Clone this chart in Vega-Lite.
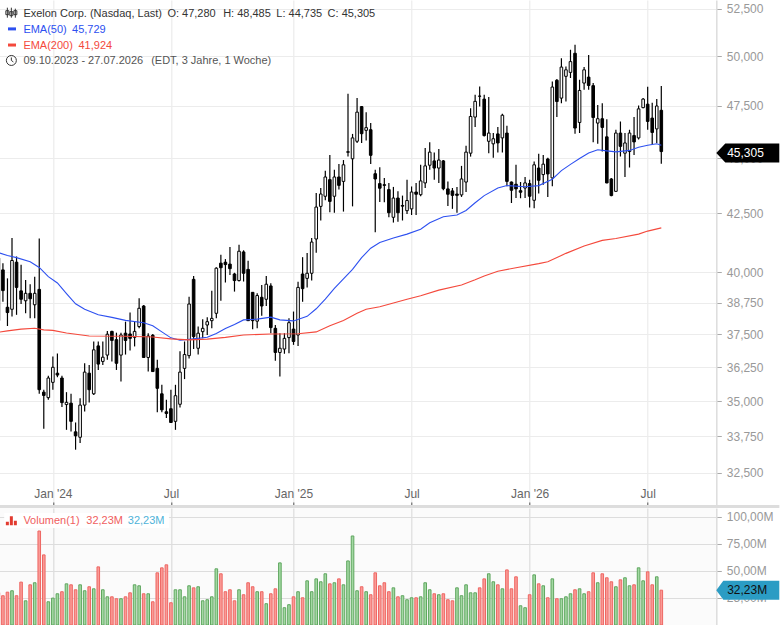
{
  "$schema": "https://vega.github.io/schema/vega-lite/v6.json",
  "padding": {"left": -2.7, "top": 0, "right": 0, "bottom": 0},
  "background": "#ffffff",
  "spacing": 3,
  "bounds": "flush",
  "config": {"font": "Liberation Sans", "view": {"stroke": null}},
  "datasets": {
    "weeks": [
      {"date":"2023-10-09","open":38.04,"high":40.65,"low":38.0,"close":40.58,"volume":30.0,"move":"down"},
      {"date":"2023-10-16","open":40.09,"high":40.37,"low":38.79,"close":39.24,"volume":27.1,"move":"down"},
      {"date":"2023-10-23","open":38.57,"high":39.74,"low":37.83,"close":38.36,"volume":30.4,"move":"down"},
      {"date":"2023-10-30","open":38.49,"high":41.43,"low":38.2,"close":40.48,"volume":31.7,"move":"up"},
      {"date":"2023-11-06","open":40.41,"high":40.65,"low":38.27,"close":39.37,"volume":27.1,"move":"down"},
      {"date":"2023-11-13","open":39.23,"high":40.3,"low":38.7,"close":38.89,"volume":39.7,"move":"down"},
      {"date":"2023-11-20","open":38.83,"high":39.67,"low":38.33,"close":39.13,"volume":22.4,"move":"up"},
      {"date":"2023-11-27","open":39.13,"high":39.5,"low":38.13,"close":38.91,"volume":37.2,"move":"down"},
      {"date":"2023-12-04","open":38.67,"high":39.81,"low":38.13,"close":39.13,"volume":39.1,"move":"up"},
      {"date":"2023-12-11","open":39.29,"high":41.41,"low":35.27,"close":35.42,"volume":87.0,"move":"down"},
      {"date":"2023-12-18","open":35.33,"high":35.42,"low":34.02,"close":35.21,"volume":64.9,"move":"down"},
      {"date":"2023-12-25","open":35.13,"high":35.93,"low":35.05,"close":35.85,"volume":21.5,"move":"up"},
      {"date":"2024-01-01","open":35.69,"high":36.66,"low":35.42,"close":36.25,"volume":24.9,"move":"up"},
      {"date":"2024-01-08","open":36.03,"high":36.77,"low":35.88,"close":35.96,"volume":28.9,"move":"up"},
      {"date":"2024-01-15","open":35.85,"high":35.93,"low":34.79,"close":34.95,"volume":30.8,"move":"down"},
      {"date":"2024-01-22","open":34.88,"high":35.33,"low":33.98,"close":34.96,"volume":38.1,"move":"up"},
      {"date":"2024-01-29","open":34.93,"high":35.27,"low":33.92,"close":34.28,"volume":37.2,"move":"down"},
      {"date":"2024-02-05","open":33.91,"high":34.24,"low":33.29,"close":33.77,"volume":32.6,"move":"down"},
      {"date":"2024-02-12","open":33.72,"high":35.11,"low":33.52,"close":34.86,"volume":37.2,"move":"up"},
      {"date":"2024-02-19","open":34.86,"high":36.4,"low":34.63,"close":36.07,"volume":31.7,"move":"up"},
      {"date":"2024-02-26","open":36.03,"high":36.34,"low":34.95,"close":35.42,"volume":35.4,"move":"down"},
      {"date":"2024-03-04","open":35.27,"high":37.23,"low":35.23,"close":36.91,"volume":33.5,"move":"up"},
      {"date":"2024-03-11","open":37.06,"high":37.23,"low":36.15,"close":36.37,"volume":53.8,"move":"down"},
      {"date":"2024-03-18","open":36.47,"high":37.23,"low":36.34,"close":36.63,"volume":32.6,"move":"up"},
      {"date":"2024-03-25","open":36.71,"high":37.64,"low":36.53,"close":37.51,"volume":26.1,"move":"up"},
      {"date":"2024-04-01","open":37.62,"high":37.65,"low":36.47,"close":37.27,"volume":26.1,"move":"down"},
      {"date":"2024-04-08","open":37.3,"high":37.57,"low":36.15,"close":36.4,"volume":24.3,"move":"down"},
      {"date":"2024-04-15","open":36.71,"high":37.57,"low":35.72,"close":37.48,"volume":24.3,"move":"up"},
      {"date":"2024-04-22","open":37.55,"high":38.0,"low":36.73,"close":37.27,"volume":26.1,"move":"down"},
      {"date":"2024-04-29","open":37.52,"high":38.36,"low":36.88,"close":37.35,"volume":29.8,"move":"down"},
      {"date":"2024-05-06","open":37.39,"high":38.0,"low":37.04,"close":37.62,"volume":37.2,"move":"up"},
      {"date":"2024-05-13","open":37.81,"high":38.93,"low":37.74,"close":38.53,"volume":36.3,"move":"up"},
      {"date":"2024-05-20","open":38.62,"high":38.66,"low":36.62,"close":36.62,"volume":28.9,"move":"down"},
      {"date":"2024-05-27","open":36.62,"high":37.55,"low":36.09,"close":37.44,"volume":28.9,"move":"up"},
      {"date":"2024-06-03","open":37.47,"high":37.52,"low":36.08,"close":36.09,"volume":21.5,"move":"down"},
      {"date":"2024-06-10","open":36.21,"high":36.53,"low":34.6,"close":35.47,"volume":48.3,"move":"down"},
      {"date":"2024-06-17","open":35.27,"high":35.6,"low":34.6,"close":34.69,"volume":52.9,"move":"down"},
      {"date":"2024-06-24","open":34.62,"high":35.05,"low":34.4,"close":34.56,"volume":55.7,"move":"down"},
      {"date":"2024-07-01","open":34.73,"high":35.42,"low":34.22,"close":34.24,"volume":20.6,"move":"down"},
      {"date":"2024-07-08","open":34.28,"high":35.6,"low":33.98,"close":35.2,"volume":32.6,"move":"up"},
      {"date":"2024-07-15","open":34.89,"high":36.86,"low":34.77,"close":36.07,"volume":32.6,"move":"up"},
      {"date":"2024-07-22","open":36.21,"high":37.23,"low":35.81,"close":36.73,"volume":26.1,"move":"up"},
      {"date":"2024-07-29","open":36.69,"high":38.99,"low":36.58,"close":38.7,"volume":36.3,"move":"up"},
      {"date":"2024-08-05","open":39.7,"high":39.84,"low":36.94,"close":37.42,"volume":34.4,"move":"down"},
      {"date":"2024-08-12","open":36.97,"high":37.81,"low":36.73,"close":37.55,"volume":35.4,"move":"up"},
      {"date":"2024-08-19","open":37.61,"high":38.1,"low":37.35,"close":37.74,"volume":22.4,"move":"up"},
      {"date":"2024-08-26","open":37.87,"high":38.17,"low":37.48,"close":38.0,"volume":23.4,"move":"up"},
      {"date":"2024-09-02","open":38.04,"high":39.23,"low":37.74,"close":38.13,"volume":26.1,"move":"up"},
      {"date":"2024-09-09","open":38.33,"high":40.2,"low":38.13,"close":40.16,"volume":52.0,"move":"up"},
      {"date":"2024-09-16","open":40.37,"high":40.72,"low":38.83,"close":40.18,"volume":47.4,"move":"down"},
      {"date":"2024-09-23","open":40.41,"high":40.54,"low":39.57,"close":40.31,"volume":30.8,"move":"down"},
      {"date":"2024-09-30","open":40.33,"high":41.05,"low":39.88,"close":40.14,"volume":32.6,"move":"down"},
      {"date":"2024-10-07","open":39.92,"high":39.97,"low":39.2,"close":39.65,"volume":22.4,"move":"down"},
      {"date":"2024-10-14","open":39.65,"high":41.15,"low":39.61,"close":40.87,"volume":32.6,"move":"up"},
      {"date":"2024-10-21","open":40.84,"high":40.91,"low":39.61,"close":39.95,"volume":28.0,"move":"down"},
      {"date":"2024-10-28","open":40.11,"high":40.47,"low":38.03,"close":38.04,"volume":39.1,"move":"down"},
      {"date":"2024-11-04","open":39.17,"high":39.18,"low":37.7,"close":38.04,"volume":35.4,"move":"down"},
      {"date":"2024-11-11","open":38.02,"high":39.13,"low":37.74,"close":39.04,"volume":30.8,"move":"up"},
      {"date":"2024-11-18","open":38.97,"high":39.47,"low":38.23,"close":38.62,"volume":30.8,"move":"down"},
      {"date":"2024-11-25","open":38.89,"high":39.84,"low":38.62,"close":39.5,"volume":19.7,"move":"up"},
      {"date":"2024-12-02","open":39.43,"high":39.54,"low":37.55,"close":37.77,"volume":28.9,"move":"down"},
      {"date":"2024-12-09","open":37.74,"high":37.87,"low":36.5,"close":36.81,"volume":33.5,"move":"down"},
      {"date":"2024-12-16","open":36.81,"high":37.55,"low":35.91,"close":36.97,"volume":57.5,"move":"up"},
      {"date":"2024-12-23","open":36.94,"high":37.55,"low":36.76,"close":37.35,"volume":16.0,"move":"up"},
      {"date":"2024-12-30","open":37.38,"high":38.13,"low":36.78,"close":37.96,"volume":18.8,"move":"up"},
      {"date":"2025-01-06","open":37.71,"high":38.4,"low":37.1,"close":37.23,"volume":26.1,"move":"down"},
      {"date":"2025-01-13","open":37.48,"high":39.6,"low":37.06,"close":39.37,"volume":30.8,"move":"up"},
      {"date":"2025-01-20","open":39.92,"high":40.62,"low":38.79,"close":39.32,"volume":25.2,"move":"down"},
      {"date":"2025-01-27","open":39.74,"high":40.8,"low":39.37,"close":39.95,"volume":40.9,"move":"up"},
      {"date":"2025-02-03","open":39.95,"high":41.43,"low":39.65,"close":41.26,"volume":30.8,"move":"up"},
      {"date":"2025-02-10","open":41.39,"high":43.41,"low":40.81,"close":42.78,"volume":42.7,"move":"up"},
      {"date":"2025-02-17","open":42.81,"high":43.63,"low":42.19,"close":43.36,"volume":40.0,"move":"up"},
      {"date":"2025-02-24","open":43.26,"high":44.42,"low":43.08,"close":44.13,"volume":47.4,"move":"up"},
      {"date":"2025-03-03","open":44.01,"high":45.15,"low":42.55,"close":43.03,"volume":38.1,"move":"down"},
      {"date":"2025-03-10","open":43.26,"high":44.46,"low":42.53,"close":44.13,"volume":39.1,"move":"up"},
      {"date":"2025-03-17","open":44.13,"high":44.73,"low":43.56,"close":43.75,"volume":42.7,"move":"down"},
      {"date":"2025-03-24","open":43.93,"high":44.91,"low":42.58,"close":44.69,"volume":37.2,"move":"up"},
      {"date":"2025-03-31","open":45.27,"high":48.09,"low":45.07,"close":45.3,"volume":59.3,"move":"up"},
      {"date":"2025-04-07","open":44.97,"high":46.14,"low":42.81,"close":45.95,"volume":82.4,"move":"up"},
      {"date":"2025-04-14","open":45.79,"high":47.88,"low":45.71,"close":47.19,"volume":31.7,"move":"up"},
      {"date":"2025-04-21","open":47.46,"high":47.49,"low":45.71,"close":46.15,"volume":35.4,"move":"down"},
      {"date":"2025-04-28","open":46.31,"high":47.19,"low":45.83,"close":46.44,"volume":30.8,"move":"up"},
      {"date":"2025-05-05","open":46.34,"high":46.66,"low":44.73,"close":45.13,"volume":28.0,"move":"down"},
      {"date":"2025-05-12","open":44.28,"high":44.46,"low":41.68,"close":44.04,"volume":48.3,"move":"down"},
      {"date":"2025-05-19","open":43.83,"high":44.58,"low":43.0,"close":43.62,"volume":36.3,"move":"down"},
      {"date":"2025-05-26","open":43.78,"high":44.08,"low":42.99,"close":43.75,"volume":39.1,"move":"down"},
      {"date":"2025-06-02","open":43.56,"high":43.86,"low":42.33,"close":42.53,"volume":30.8,"move":"down"},
      {"date":"2025-06-09","open":42.33,"high":43.68,"low":42.1,"close":43.18,"volume":34.4,"move":"up"},
      {"date":"2025-06-16","open":43.18,"high":43.48,"low":42.14,"close":42.53,"volume":26.1,"move":"down"},
      {"date":"2025-06-23","open":42.85,"high":43.29,"low":42.19,"close":42.82,"volume":27.1,"move":"up"},
      {"date":"2025-06-30","open":42.62,"high":44.01,"low":42.47,"close":43.07,"volume":23.4,"move":"up"},
      {"date":"2025-07-07","open":42.7,"high":43.7,"low":42.43,"close":43.45,"volume":25.2,"move":"up"},
      {"date":"2025-07-14","open":43.45,"high":43.86,"low":42.43,"close":43.35,"volume":25.2,"move":"down"},
      {"date":"2025-07-21","open":43.33,"high":44.69,"low":43.26,"close":43.95,"volume":26.1,"move":"up"},
      {"date":"2025-07-28","open":43.86,"high":45.47,"low":43.63,"close":44.64,"volume":39.1,"move":"up"},
      {"date":"2025-08-04","open":44.67,"high":45.74,"low":44.46,"close":45.28,"volume":32.6,"move":"up"},
      {"date":"2025-08-11","open":44.87,"high":45.26,"low":44.01,"close":44.54,"volume":28.9,"move":"down"},
      {"date":"2025-08-18","open":44.54,"high":45.42,"low":43.86,"close":44.91,"volume":28.0,"move":"up"},
      {"date":"2025-08-25","open":44.87,"high":44.91,"low":43.53,"close":43.6,"volume":28.9,"move":"down"},
      {"date":"2025-09-01","open":43.59,"high":43.93,"low":42.83,"close":43.35,"volume":23.4,"move":"down"},
      {"date":"2025-09-08","open":43.5,"high":43.63,"low":42.7,"close":43.3,"volume":22.4,"move":"down"},
      {"date":"2025-09-15","open":43.36,"high":43.68,"low":42.53,"close":43.3,"volume":34.4,"move":"up"},
      {"date":"2025-09-22","open":43.32,"high":44.64,"low":43.23,"close":44.04,"volume":27.1,"move":"up"},
      {"date":"2025-09-29","open":43.9,"high":45.58,"low":43.45,"close":45.28,"volume":37.2,"move":"up"},
      {"date":"2025-10-06","open":45.23,"high":47.38,"low":45.07,"close":46.98,"volume":29.8,"move":"up"},
      {"date":"2025-10-13","open":46.95,"high":48.04,"low":46.47,"close":47.72,"volume":29.8,"move":"up"},
      {"date":"2025-10-20","open":47.97,"high":48.46,"low":47.46,"close":47.98,"volume":34.4,"move":"down"},
      {"date":"2025-10-27","open":47.83,"high":48.04,"low":46.02,"close":46.06,"volume":42.7,"move":"down"},
      {"date":"2025-11-03","open":45.79,"high":47.93,"low":45.23,"close":46.18,"volume":47.4,"move":"up"},
      {"date":"2025-11-10","open":45.67,"high":46.18,"low":45.02,"close":45.91,"volume":40.0,"move":"up"},
      {"date":"2025-11-17","open":46.14,"high":46.47,"low":45.26,"close":45.71,"volume":37.2,"move":"down"},
      {"date":"2025-11-24","open":45.95,"high":47.11,"low":45.26,"close":47.04,"volume":33.5,"move":"up"},
      {"date":"2025-12-01","open":46.18,"high":46.53,"low":43.71,"close":43.93,"volume":51.0,"move":"down"},
      {"date":"2025-12-08","open":43.9,"high":43.93,"low":42.96,"close":43.53,"volume":33.5,"move":"down"},
      {"date":"2025-12-15","open":43.8,"high":44.69,"low":43.18,"close":43.59,"volume":44.6,"move":"down"},
      {"date":"2025-12-22","open":43.51,"high":43.9,"low":43.17,"close":43.44,"volume":17.8,"move":"up"},
      {"date":"2025-12-29","open":43.63,"high":44.13,"low":43.18,"close":43.86,"volume":16.0,"move":"up"},
      {"date":"2026-01-05","open":43.83,"high":44.01,"low":42.76,"close":43.26,"volume":28.0,"move":"down"},
      {"date":"2026-01-12","open":43.08,"high":44.84,"low":42.73,"close":44.69,"volume":46.4,"move":"up"},
      {"date":"2026-01-19","open":44.54,"high":45.2,"low":43.38,"close":43.98,"volume":38.1,"move":"down"},
      {"date":"2026-01-26","open":44.24,"high":45.15,"low":43.78,"close":44.72,"volume":36.3,"move":"up"},
      {"date":"2026-02-02","open":44.96,"high":45.02,"low":43.23,"close":44.27,"volume":25.2,"move":"down"},
      {"date":"2026-02-09","open":44.09,"high":48.71,"low":43.71,"close":48.43,"volume":42.7,"move":"up"},
      {"date":"2026-02-16","open":48.77,"high":48.83,"low":46.95,"close":47.71,"volume":24.3,"move":"down"},
      {"date":"2026-02-23","open":47.88,"high":49.89,"low":47.62,"close":49.44,"volume":24.3,"move":"up"},
      {"date":"2026-03-02","open":48.97,"high":49.47,"low":47.71,"close":49.3,"volume":26.1,"move":"up"},
      {"date":"2026-03-09","open":49.17,"high":50.33,"low":48.88,"close":49.72,"volume":28.9,"move":"up"},
      {"date":"2026-03-16","open":50.15,"high":50.59,"low":46.15,"close":46.42,"volume":32.6,"move":"down"},
      {"date":"2026-03-23","open":46.69,"high":48.8,"low":46.18,"close":48.26,"volume":33.5,"move":"up"},
      {"date":"2026-03-30","open":48.63,"high":49.44,"low":48.3,"close":49.3,"volume":28.9,"move":"up"},
      {"date":"2026-04-06","open":48.93,"high":50.06,"low":48.3,"close":48.51,"volume":30.8,"move":"down"},
      {"date":"2026-04-13","open":48.5,"high":48.63,"low":45.74,"close":46.93,"volume":48.3,"move":"down"},
      {"date":"2026-04-20","open":46.66,"high":47.54,"low":45.67,"close":46.87,"volume":39.1,"move":"up"},
      {"date":"2026-04-27","open":46.87,"high":47.62,"low":45.31,"close":46.45,"volume":47.4,"move":"down"},
      {"date":"2026-05-04","open":46.0,"high":46.85,"low":43.85,"close":43.86,"volume":43.7,"move":"down"},
      {"date":"2026-05-11","open":44.04,"high":44.09,"low":43.26,"close":43.29,"volume":40.0,"move":"down"},
      {"date":"2026-05-18","open":43.48,"high":46.34,"low":43.47,"close":46.18,"volume":35.4,"move":"up"},
      {"date":"2026-05-25","open":46.18,"high":46.74,"low":45.07,"close":45.55,"volume":41.8,"move":"down"},
      {"date":"2026-06-01","open":45.23,"high":46.18,"low":44.13,"close":45.71,"volume":43.7,"move":"up"},
      {"date":"2026-06-08","open":45.31,"high":46.34,"low":44.57,"close":46.18,"volume":36.3,"move":"up"},
      {"date":"2026-06-15","open":46.06,"high":46.95,"low":45.14,"close":45.76,"volume":37.2,"move":"down"},
      {"date":"2026-06-22","open":45.95,"high":47.51,"low":45.87,"close":47.35,"volume":52.9,"move":"up"},
      {"date":"2026-06-29","open":47.41,"high":47.89,"low":47.38,"close":47.83,"volume":40.9,"move":"up"},
      {"date":"2026-07-06","open":47.58,"high":48.45,"low":46.34,"close":46.74,"volume":49.2,"move":"down"},
      {"date":"2026-07-13","open":46.9,"high":47.65,"low":45.63,"close":46.21,"volume":37.2,"move":"down"},
      {"date":"2026-07-20","open":46.38,"high":47.83,"low":45.71,"close":47.49,"volume":44.6,"move":"up"},
      {"date":"2026-07-27","open":47.28,"high":48.485,"low":44.735,"close":45.305,"volume":32.23,"move":"down"}
    ],
    "ema": [
      {"date":"2023-10-09","series":"EMA(50)","price":40.81},{"date":"2023-10-23","series":"EMA(50)","price":40.69},
      {"date":"2023-11-06","series":"EMA(50)","price":40.6},{"date":"2023-11-27","series":"EMA(50)","price":40.43},
      {"date":"2023-12-11","series":"EMA(50)","price":40.19},{"date":"2023-12-25","series":"EMA(50)","price":39.81},
      {"date":"2024-01-08","series":"EMA(50)","price":39.55},{"date":"2024-01-22","series":"EMA(50)","price":39.12},
      {"date":"2024-02-05","series":"EMA(50)","price":38.71},{"date":"2024-02-19","series":"EMA(50)","price":38.49},
      {"date":"2024-03-11","series":"EMA(50)","price":38.27},{"date":"2024-04-01","series":"EMA(50)","price":38.17},
      {"date":"2024-04-22","series":"EMA(50)","price":38.05},{"date":"2024-05-20","series":"EMA(50)","price":37.96},
      {"date":"2024-06-03","series":"EMA(50)","price":37.84},{"date":"2024-06-17","series":"EMA(50)","price":37.6},
      {"date":"2024-07-01","series":"EMA(50)","price":37.37},{"date":"2024-07-15","series":"EMA(50)","price":37.28},
      {"date":"2024-08-05","series":"EMA(50)","price":37.33},{"date":"2024-08-26","series":"EMA(50)","price":37.39},
      {"date":"2024-09-09","series":"EMA(50)","price":37.54},{"date":"2024-09-23","series":"EMA(50)","price":37.73},
      {"date":"2024-10-07","series":"EMA(50)","price":37.89},{"date":"2024-10-21","series":"EMA(50)","price":38.07},
      {"date":"2024-11-11","series":"EMA(50)","price":38.1},{"date":"2024-12-02","series":"EMA(50)","price":38.18},
      {"date":"2024-12-16","series":"EMA(50)","price":38.07},{"date":"2025-01-06","series":"EMA(50)","price":38.03},
      {"date":"2025-01-27","series":"EMA(50)","price":38.21},{"date":"2025-02-10","series":"EMA(50)","price":38.51},
      {"date":"2025-02-24","series":"EMA(50)","price":38.9},{"date":"2025-03-10","series":"EMA(50)","price":39.33},
      {"date":"2025-03-24","series":"EMA(50)","price":39.72},{"date":"2025-04-07","series":"EMA(50)","price":40.11},
      {"date":"2025-04-21","series":"EMA(50)","price":40.6},{"date":"2025-05-05","series":"EMA(50)","price":41.0},
      {"date":"2025-05-19","series":"EMA(50)","price":41.24},{"date":"2025-06-09","series":"EMA(50)","price":41.43},
      {"date":"2025-06-30","series":"EMA(50)","price":41.6},{"date":"2025-07-21","series":"EMA(50)","price":41.81},
      {"date":"2025-08-04","series":"EMA(50)","price":42.09},{"date":"2025-08-25","series":"EMA(50)","price":42.35},
      {"date":"2025-09-15","series":"EMA(50)","price":42.43},{"date":"2025-09-29","series":"EMA(50)","price":42.63},
      {"date":"2025-10-13","series":"EMA(50)","price":42.97},{"date":"2025-10-27","series":"EMA(50)","price":43.29},
      {"date":"2025-11-17","series":"EMA(50)","price":43.63},{"date":"2025-12-01","series":"EMA(50)","price":43.74},
      {"date":"2025-12-29","series":"EMA(50)","price":43.69},{"date":"2026-01-19","series":"EMA(50)","price":43.74},
      {"date":"2026-02-09","series":"EMA(50)","price":44.03},{"date":"2026-02-23","series":"EMA(50)","price":44.42},
      {"date":"2026-03-09","series":"EMA(50)","price":44.71},{"date":"2026-03-23","series":"EMA(50)","price":44.98},
      {"date":"2026-04-06","series":"EMA(50)","price":45.24},{"date":"2026-04-20","series":"EMA(50)","price":45.39},
      {"date":"2026-05-04","series":"EMA(50)","price":45.34},{"date":"2026-05-18","series":"EMA(50)","price":45.29},
      {"date":"2026-06-08","series":"EMA(50)","price":45.36},{"date":"2026-06-22","series":"EMA(50)","price":45.51},
      {"date":"2026-07-06","series":"EMA(50)","price":45.6},{"date":"2026-07-20","series":"EMA(50)","price":45.67},
      {"date":"2026-07-27","series":"EMA(50)","price":45.6},
      {"date":"2023-10-09","series":"EMA(200)","price":37.59},{"date":"2023-10-23","series":"EMA(200)","price":37.64},
      {"date":"2023-11-13","series":"EMA(200)","price":37.71},{"date":"2023-12-04","series":"EMA(200)","price":37.74},
      {"date":"2023-12-18","series":"EMA(200)","price":37.68},{"date":"2024-01-01","series":"EMA(200)","price":37.66},
      {"date":"2024-01-22","series":"EMA(200)","price":37.56},{"date":"2024-02-26","series":"EMA(200)","price":37.44},
      {"date":"2024-04-22","series":"EMA(200)","price":37.43},{"date":"2024-06-03","series":"EMA(200)","price":37.4},
      {"date":"2024-07-01","series":"EMA(200)","price":37.33},{"date":"2024-07-29","series":"EMA(200)","price":37.29},
      {"date":"2024-08-26","series":"EMA(200)","price":37.32},{"date":"2024-09-23","series":"EMA(200)","price":37.39},
      {"date":"2024-10-21","series":"EMA(200)","price":37.48},{"date":"2024-12-02","series":"EMA(200)","price":37.52},
      {"date":"2025-01-13","series":"EMA(200)","price":37.53},{"date":"2025-02-10","series":"EMA(200)","price":37.6},
      {"date":"2025-03-03","series":"EMA(200)","price":37.84},{"date":"2025-03-24","series":"EMA(200)","price":38.05},
      {"date":"2025-04-14","series":"EMA(200)","price":38.33},{"date":"2025-04-28","series":"EMA(200)","price":38.49},
      {"date":"2025-05-19","series":"EMA(200)","price":38.59},{"date":"2025-06-09","series":"EMA(200)","price":38.74},
      {"date":"2025-06-30","series":"EMA(200)","price":38.89},{"date":"2025-07-21","series":"EMA(200)","price":39.03},
      {"date":"2025-08-18","series":"EMA(200)","price":39.26},{"date":"2025-09-22","series":"EMA(200)","price":39.47},
      {"date":"2025-10-13","series":"EMA(200)","price":39.68},{"date":"2025-10-27","series":"EMA(200)","price":39.84},
      {"date":"2025-11-17","series":"EMA(200)","price":40.03},{"date":"2025-12-15","series":"EMA(200)","price":40.18},
      {"date":"2026-01-19","series":"EMA(200)","price":40.35},{"date":"2026-02-02","series":"EMA(200)","price":40.43},
      {"date":"2026-03-02","series":"EMA(200)","price":40.78},{"date":"2026-03-30","series":"EMA(200)","price":41.09},
      {"date":"2026-04-27","series":"EMA(200)","price":41.33},{"date":"2026-05-18","series":"EMA(200)","price":41.41},
      {"date":"2026-06-22","series":"EMA(200)","price":41.6},{"date":"2026-07-06","series":"EMA(200)","price":41.73},
      {"date":"2026-07-27","series":"EMA(200)","price":41.87}
    ],
    "labels": [
      {"date":"2023-11-15","price":52.3,"text":"Exelon Corp. (Nasdaq, Last)","series":"Kurs"},
      {"date":"2024-06-24","price":52.3,"text":"O: 47,280","series":"Kurs"},
      {"date":"2024-09-18","price":52.3,"text":"H: 48,485","series":"Kurs"},
      {"date":"2024-12-09","price":52.3,"text":"L: 44,735","series":"Kurs"},
      {"date":"2025-02-26","price":52.3,"text":"C: 45,305","series":"Kurs"},
      {"date":"2023-11-15","price":51.43,"text":"EMA(50)","series":"EMA(50)"},
      {"date":"2024-01-29","price":51.43,"text":"45,729","series":"EMA(50)"},
      {"date":"2023-11-15","price":50.58,"text":"EMA(200)","series":"EMA(200)"},
      {"date":"2024-02-08","price":50.58,"text":"41,924","series":"EMA(200)"},
      {"date":"2023-11-15","price":49.78,"text":"09.10.2023 - 27.07.2026","series":"Zeit"},
      {"date":"2024-05-30","price":49.78,"text":"(EDT, 3 Jahre, 1 Woche)","series":"Zeit"}
    ],
    "icons": [
      {"date":"2023-10-29","price":52.3,"icon":"kerzen"},
      {"date":"2023-10-29","price":49.78,"icon":"uhr"}
    ],
    "dashes": [
      {"date":"2023-10-30","price":51.43,"series":"EMA(50)"},
      {"date":"2023-10-30","price":50.58,"series":"EMA(200)"}
    ],
    "band": [
      {"date":"2023-10-10T10:00:00Z","end":"2027-01-25","price":31.39}
    ],
    "lastPrice": [
      {"date":"2026-10-19T19:00:00Z","price":45.24}
    ],
    "lastPriceText": [
      {"date":"2026-11-04","price":45.24,"text":"45,305"}
    ],
    "lastVolume": [
      {"date":"2026-10-19T19:00:00Z","volume":32.23}
    ],
    "lastVolumeText": [
      {"date":"2026-11-04","volume":32.23,"text":"32,23M"}
    ],
    "volumeBox": [
      {"date":"2023-10-18","end":"2024-06-28","top":103.7,"bottom":89.8}
    ],
    "volumeIcon": [
      {"date":"2023-10-29","volume":96.6}
    ],
    "volumeLabels": [
      {"date":"2023-11-15","volume":96.6,"text":"Volumen(1)"},
      {"date":"2024-02-20","volume":96.6,"text":"32,23M"}
    ],
    "volumeSignal": [
      {"date":"2024-04-24","volume":96.6,"text":"32,23M"}
    ]
  },
  "vconcat": [
    {
      "width": 717,
      "height": 505,
      "layer": [
        {
          "data": {"name": "band", "format": {"parse": {"date": "date", "end": "date"}}},
          "mark": {"type": "rule", "color": "#dddddd", "strokeWidth": 3, "clip": false},
          "encoding": {
            "x": {
              "field": "date",
              "type": "temporal",
              "title": null,
              "scale": {"type": "utc", "domain": [1696932000000, 1792436400000], "nice": false, "padding": 0},
              "axis": {
                "values": [1704067200000, 1719792000000, 1736121600000, 1751846400000, 1767571200000, 1783296000000],
                "tickCount": 50,
                "labelExpr": "utcmonth(datum.value) == 0 ? utcFormat(datum.value, \"%b '%y\") : 'Jul'",
                "grid": true,
                "gridColor": "#ececec",
                "gridWidth": 1.2,
                "domain": false,
                "tickColor": "#555555",
                "tickSize": -3,
                "labelColor": "#666666",
                "labelFontSize": 12,
                "labelPadding": -13,
                "labelOverlap": false,
                "labelFlush": false,
                "labelBound": false
              }
            },
            "x2": {"field": "end"},
            "y": {
              "field": "price",
              "type": "quantitative",
              "title": null,
              "scale": {"type": "log", "domain": [31.44, 52.99], "nice": false},
              "axis": {
                "orient": "right",
                "values": [52.5, 50, 47.5, 45, 42.5, 40, 38.75, 37.5, 36.25, 35, 33.75, 32.5],
                "tickCount": 50,
                "labelExpr": "replace(format(datum.value, '.3f'), '.', ',')",
                "grid": true,
                "gridColor": "#ececec",
                "gridWidth": 1.2,
                "domainColor": "#dddddd",
                "domainWidth": 1.5,
                "tickColor": "#aaaaaa",
                "tickSize": 5,
                "labelColor": "#999999",
                "labelFontSize": 12,
                "labelPadding": 5,
                "labelOverlap": false,
                "labelFlush": false,
                "labelBound": false
              }
            }
          }
        },
        {
          "data": {"name": "weeks"},
          "mark": {"type": "rule", "color": "#000000", "strokeWidth": 1.2, "clip": true},
          "encoding": {
            "x": {"field": "date", "type": "temporal"},
            "y": {"field": "low", "type": "quantitative"},
            "y2": {"field": "high"}
          }
        },
        {
          "data": {"name": "weeks"},
          "mark": {"type": "bar", "size": 2.6, "stroke": "#000000", "strokeWidth": 1, "clip": true},
          "encoding": {
            "x": {"field": "date", "type": "temporal"},
            "y": {"field": "open", "type": "quantitative"},
            "y2": {"field": "close"},
            "fill": {"condition": {"test": "datum.close > datum.open", "value": "#ffffff"}, "value": "#000000"}
          }
        },
        {
          "data": {"name": "ema"},
          "mark": {"type": "line", "strokeWidth": 1.1, "clip": true},
          "encoding": {
            "x": {"field": "date", "type": "temporal"},
            "y": {"field": "price", "type": "quantitative"},
            "color": {
              "field": "series",
              "type": "nominal",
              "legend": null,
              "scale": {"domain": ["EMA(50)", "EMA(200)", "Kurs", "Zeit"], "range": ["#2d50f0", "#f4493c", "#333333", "#555555"]}
            }
          }
        },
        {
          "data": {"name": "labels"},
          "mark": {"type": "text", "align": "left", "baseline": "middle", "fontSize": 11, "dx": 1, "dy": 1},
          "encoding": {
            "x": {"field": "date", "type": "temporal"},
            "y": {"field": "price", "type": "quantitative"},
            "text": {"field": "text"},
            "color": {"field": "series", "type": "nominal", "legend": null}
          }
        },
        {
          "data": {"name": "dashes"},
          "mark": {"type": "point", "shape": "M-4,-1.5H4V1.5H-4Z", "size": 4, "filled": true, "opacity": 1},
          "encoding": {
            "x": {"field": "date", "type": "temporal"},
            "y": {"field": "price", "type": "quantitative"},
            "color": {"field": "series", "type": "nominal", "legend": null}
          }
        },
        {
          "data": {"name": "icons"},
          "mark": {"type": "point", "size": 4, "filled": false, "color": "#333333", "strokeWidth": 1, "opacity": 1},
          "encoding": {
            "x": {"field": "date", "type": "temporal"},
            "y": {"field": "price", "type": "quantitative"},
            "shape": {
              "field": "icon",
              "type": "nominal",
              "legend": null,
              "scale": {
                "domain": ["kerzen", "uhr"],
                "range": [
                  "M-4,-5V5M0,-5V5M4,-4V5M-5.5,-2H-2.5V2H-5.5ZM-1.5,-1H1.5V3H-1.5ZM2.5,-2H5.5V2H2.5Z",
                  "M-5,0A5,5 0 1,1 5,0A5,5 0 1,1 -5,0ZM0,-3V0L2,1.5"
                ]
              }
            }
          }
        },
        {
          "data": {"name": "lastPrice"},
          "mark": {"type": "point", "shape": "M0,0L9,-9.5H63V9.5H9Z", "size": 4, "filled": true, "color": "#000000", "opacity": 1},
          "encoding": {
            "x": {"field": "date", "type": "temporal"},
            "y": {"field": "price", "type": "quantitative"}
          }
        },
        {
          "data": {"name": "lastPriceText"},
          "mark": {"type": "text", "align": "left", "baseline": "middle", "fontSize": 12, "color": "#ffffff", "dx": 1},
          "encoding": {
            "x": {"field": "date", "type": "temporal"},
            "y": {"field": "price", "type": "quantitative"},
            "text": {"field": "text"}
          }
        }
      ]
    },
    {
      "width": 717,
      "height": 117,
      "view": {"fill": "#fbfbfb", "stroke": null},
      "layer": [
        {
          "data": {"name": "volumeBox", "format": {"parse": {"date": "date", "end": "date"}}},
          "mark": {"type": "rect", "color": "#ffffff"},
          "encoding": {
            "x": {
              "field": "date",
              "type": "temporal",
              "title": null,
              "scale": {"type": "utc", "domain": [1696932000000, 1792436400000], "nice": false, "padding": 0},
              "axis": {
                "values": [1704067200000, 1719792000000, 1736121600000, 1751846400000, 1767571200000, 1783296000000],
                "tickCount": 50,
                "grid": true,
                "gridColor": "#dddddd",
                "gridWidth": 1.2,
                "domain": false,
                "ticks": false,
                "labels": false
              }
            },
            "x2": {"field": "end"},
            "y": {
              "field": "top",
              "type": "quantitative",
              "title": null,
              "scale": {"domain": [0, 108.3], "nice": false},
              "axis": {
                "orient": "right",
                "values": [25, 50, 75, 100],
                "tickCount": 50,
                "labelExpr": "replace(format(datum.value, '.2f'), '.', ',') + 'M'",
                "grid": true,
                "gridColor": "#dddddd",
                "gridWidth": 1.2,
                "domainColor": "#dddddd",
                "domainWidth": 1.5,
                "tickColor": "#aaaaaa",
                "tickSize": 5,
                "labelColor": "#999999",
                "labelFontSize": 12,
                "labelPadding": 5,
                "labelOverlap": false,
                "labelFlush": false,
                "labelBound": false
              }
            },
            "y2": {"field": "bottom"}
          }
        },
        {
          "data": {"name": "weeks"},
          "mark": {"type": "bar", "size": 2.6, "strokeWidth": 1, "clip": true},
          "encoding": {
            "x": {"field": "date", "type": "temporal"},
            "y": {"field": "volume", "type": "quantitative"},
            "fill": {
              "field": "move",
              "type": "nominal",
              "legend": null,
              "scale": {"domain": ["up", "down"], "range": ["#a3d9a3", "#fa9a96"]}
            },
            "stroke": {
              "field": "move",
              "type": "nominal",
              "legend": null,
              "scale": {"domain": ["up", "down"], "range": ["#5ea65e", "#ee6662"]}
            }
          }
        },
        {
          "data": {"name": "volumeLabels"},
          "mark": {"type": "text", "align": "left", "baseline": "middle", "fontSize": 11, "dx": 1, "color": "#f06060"},
          "encoding": {
            "x": {"field": "date", "type": "temporal"},
            "y": {"field": "volume", "type": "quantitative"},
            "text": {"field": "text"}
          }
        },
        {
          "data": {"name": "volumeSignal"},
          "mark": {"type": "text", "align": "left", "baseline": "middle", "fontSize": 11, "dx": 1, "color": "#4fb3d9"},
          "encoding": {
            "x": {"field": "date", "type": "temporal"},
            "y": {"field": "volume", "type": "quantitative"},
            "text": {"field": "text"}
          }
        },
        {
          "data": {"name": "volumeIcon"},
          "mark": {"type": "point", "shape": "M-5.5,1H-2.5V4.5H-5.5ZM-1.5,-4.5H1.5V4.5H-1.5ZM2.5,0H5.5V4.5H2.5Z", "size": 4, "filled": true, "color": "#e23b30", "opacity": 1},
          "encoding": {
            "x": {"field": "date", "type": "temporal"},
            "y": {"field": "volume", "type": "quantitative"}
          }
        },
        {
          "data": {"name": "lastVolume"},
          "mark": {"type": "point", "shape": "M0,0L7,-9.5H63V9.5H7Z", "size": 4, "filled": true, "color": "#2b9cc4", "opacity": 1},
          "encoding": {
            "x": {"field": "date", "type": "temporal"},
            "y": {"field": "volume", "type": "quantitative"}
          }
        },
        {
          "data": {"name": "lastVolumeText"},
          "mark": {"type": "text", "align": "left", "baseline": "middle", "fontSize": 12, "color": "#111111", "dx": 1},
          "encoding": {
            "x": {"field": "date", "type": "temporal"},
            "y": {"field": "volume", "type": "quantitative"},
            "text": {"field": "text"}
          }
        }
      ]
    }
  ]
}
